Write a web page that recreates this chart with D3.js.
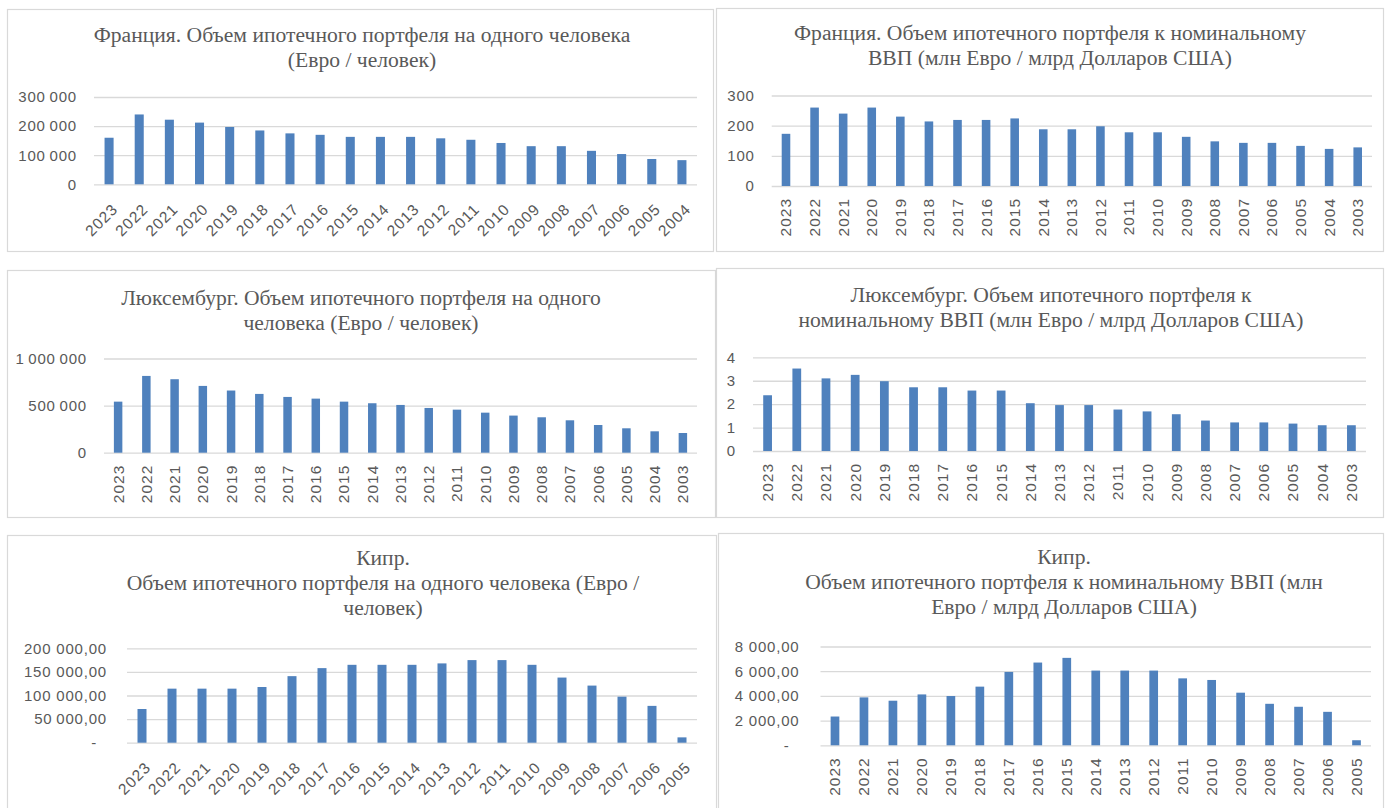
<!DOCTYPE html>
<html><head><meta charset="utf-8">
<script src="https://cdn.jsdelivr.net/npm/d3@7"></script>
<style>
body{margin:0;background:#fff;}
svg{display:block;}
</style></head><body>
<svg id="c" width="1392" height="808"></svg>
<script>
// ---------- DATA ----------
const yearsFrCap = [2023,2022,2021,2020,2019,2018,2017,2016,2015,2014,2013,2012,2011,2010,2009,2008,2007,2006,2005,2004];
const franceCapita = [160000,240000,222000,212000,197000,185000,175000,170000,163000,163000,163000,158000,153000,142000,131000,131000,115000,104000,87000,83000];
const franceCapitaTicks = [0,100000,200000,300000];
const franceCapitaTickLabels = ["0","100\u2009000","200\u2009000","300\u2009000"];
const franceCapitaTitle = ["Франция. Объем ипотечного портфеля на одного человека","(Евро / человек)"];

const yearsFrGdp = [2023,2022,2021,2020,2019,2018,2017,2016,2015,2014,2013,2012,2011,2010,2009,2008,2007,2006,2005,2004,2003];
const franceGdp = [173,260,240,260,230,214,219,219,224,188,188,198,178,178,163,148,143,143,133,123,128];
const franceGdpTicks = [0,100,200,300];
const franceGdpTickLabels = ["0","100","200","300"];
const franceGdpTitle = ["Франция. Объем ипотечного портфеля к номинальному","ВВП (млн Евро / млрд Долларов США)"];

const yearsLux = [2023,2022,2021,2020,2019,2018,2017,2016,2015,2014,2013,2012,2011,2010,2009,2008,2007,2006,2005,2004,2003];
const luxCapita = [542000,815000,780000,709000,660000,624000,592000,574000,542000,525000,507000,475000,457000,425000,394000,376000,344000,294000,259000,227000,209000];
const luxCapitaTicks = [0,500000,1000000];
const luxCapitaTickLabels = ["0","500\u2009000","1\u2009000\u2009000"];
const luxCapitaTitle = ["Люксембург. Объем ипотечного портфеля на одного","человека (Евро / человек)"];

const luxGdp = [2.38,3.52,3.10,3.25,2.98,2.72,2.72,2.58,2.58,2.04,1.96,1.96,1.77,1.69,1.57,1.30,1.22,1.22,1.17,1.10,1.10];
const luxGdpTicks = [0,1,2,3,4];
const luxGdpTickLabels = ["0","1","2","3","4"];
const luxGdpTitle = ["Люксембург. Объем ипотечного портфеля к","номинальному ВВП (млн Евро / млрд Долларов США)"];

const yearsCy = [2023,2022,2021,2020,2019,2018,2017,2016,2015,2014,2013,2012,2011,2010,2009,2008,2007,2006,2005];
const cyprusCapita = [71400,114500,114500,114500,118000,141000,158000,165000,165000,165000,168000,175000,175000,165000,138000,121000,97500,78000,11300];
const cyprusCapitaTicks = [0,50000,100000,150000,200000];
const cyprusCapitaTickLabels = ["-\u00a0\u00a0","50\u2009000,00","100 000,00","150 000,00","200 000,00"];
const cyprusCapitaTitle = ["Кипр.","Объем ипотечного портфеля на одного человека (Евро /","человек)"];

const cyprusGdp = [2330,3880,3610,4120,3990,4750,5940,6700,7080,6050,6050,6050,5420,5290,4260,3360,3120,2710,410];
const cyprusGdpTicks = [0,2000,4000,6000,8000];
const cyprusGdpTickLabels = ["-\u00a0\u00a0","2 000,00","4 000,00","6 000,00","8 000,00"];
const cyprusGdpTitle = ["Кипр.","Объем ипотечного портфеля к номинальному ВВП (млн","Евро / млрд Долларов США)"];

// ---------- LAYOUT ----------
const BAR = "#4f81bd", GRID = "#d9d9d9", TXT = "#595959";
const panels = [
  {years:yearsFrCap, values:franceCapita, ticks:franceCapitaTicks, labels:franceCapitaTickLabels, title:franceCapitaTitle,
   box:[7,9,706,242], tx:362, ty:42, left:94, right:697, top:97, bottom:184.3, rot:45, pad:17},
  {years:yearsFrGdp, values:franceGdp, ticks:franceGdpTicks, labels:franceGdpTickLabels, title:franceGdpTitle,
   box:[716,8,667,243], tx:1050, ty:40, left:771.7, right:1372, top:95.5, bottom:186, rot:90, pad:17},
  {years:yearsLux, values:luxCapita, ticks:luxCapitaTicks, labels:luxCapitaTickLabels, title:luxCapitaTitle,
   box:[7,270,708,247], tx:361, ty:305, left:104, right:697, top:358.5, bottom:452.7, rot:90, pad:17},
  {years:yearsLux, values:luxGdp, ticks:luxGdpTicks, labels:luxGdpTickLabels, title:luxGdpTitle,
   box:[716,268,667,249], tx:1051, ty:302, left:753, right:1366, top:357.3, bottom:451, rot:90, pad:17},
  {years:yearsCy, values:cyprusCapita, ticks:cyprusCapitaTicks, labels:cyprusCapitaTickLabels, title:cyprusCapitaTitle,
   box:[7,535,709,290], tx:383, ty:565, left:127, right:697, top:648.3, bottom:742.7, rot:45, pad:20},
  {years:yearsCy, values:cyprusGdp, ticks:cyprusGdpTicks, labels:cyprusGdpTickLabels, title:cyprusGdpTitle,
   box:[718,533,665,290], tx:1064, ty:564, left:820.5, right:1371, top:646.5, bottom:745.3, rot:90, pad:21}
];

const svg = d3.select("#c");

function drawPanel(p){
  const g = svg.append("g");
  g.append("rect").attr("x",p.box[0]+0.5).attr("y",p.box[1]+0.5).attr("width",p.box[2]).attr("height",p.box[3])
    .attr("fill","#fff").attr("stroke",GRID).attr("stroke-width",1.2);

  g.append("g").selectAll("text").data(p.title).join("text")
    .attr("x",p.tx).attr("y",(d,i)=>p.ty+i*25)
    .attr("text-anchor","middle")
    .attr("font-family","'Liberation Serif','Times New Roman',serif")
    .attr("font-size",21.6).attr("fill",TXT)
    .text(d=>d);

  const x = d3.scaleBand().domain(p.years).range([p.left,p.right]).paddingInner(0.7).paddingOuter(0.35);
  const y = d3.scaleLinear().domain([0,d3.max(p.ticks)]).range([p.bottom,p.top]);

  const yAxis = d3.axisLeft(y).tickValues(p.ticks).tickFormat((d,i)=>p.labels[i])
    .tickSize(-(p.right-p.left)).tickPadding(p.pad);
  const ya = g.append("g").attr("transform",`translate(${p.left},0)`).call(yAxis);
  ya.select(".domain").remove();
  ya.selectAll(".tick line").attr("stroke",GRID).attr("stroke-width",1.3);
  ya.selectAll(".tick text").attr("fill",TXT)
    .attr("font-family","'Liberation Sans',Arial,sans-serif").attr("font-size",15)
    .attr("letter-spacing",0.8);

  g.append("g").selectAll("rect").data(p.values).join("rect")
    .attr("x",(d,i)=>x(p.years[i]))
    .attr("width",x.bandwidth())
    .attr("y",d=>y(d))
    .attr("height",d=>y(0)-y(d))
    .attr("fill",BAR);

  const xAxis = d3.axisBottom(x).tickSize(0).tickPadding(0);
  const xa = g.append("g").attr("transform",`translate(0,${p.bottom})`).call(xAxis);
  xa.select(".domain").remove();
  const t = xa.selectAll(".tick text").attr("fill",TXT)
    .attr("font-family","'Liberation Sans',Arial,sans-serif").attr("font-size",15.5)
    .attr("letter-spacing",1).attr("text-anchor","end").attr("y",0).attr("x",0);
  if(p.rot===90){
    t.attr("transform","translate(0,12) rotate(-90)").attr("dy","0.35em");
  } else {
    t.attr("transform","translate(2,18) rotate(-45)").attr("dy","0.71em");
  }
}
panels.forEach(drawPanel);
</script>
</body></html>
